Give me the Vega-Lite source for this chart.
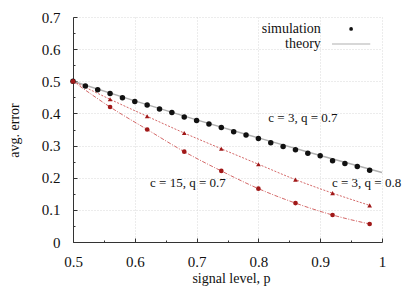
{
  "$schema": "https://vega.github.io/schema/vega-lite/v6.json",
  "width": 309,
  "height": 225,
  "autosize": {"type": "none"},
  "padding": {"left": 73, "top": 17, "right": 33, "bottom": 49},
  "background": "white",
  "config": {
    "font": "Liberation Serif",
    "view": {"stroke": null},
    "axis": {
      "labelFont": "Liberation Serif",
      "titleFont": "Liberation Serif",
      "labelFontSize": 15,
      "titleFontSize": 14,
      "titleFontWeight": "normal",
      "labelColor": "#111",
      "titleColor": "#111",
      "domainColor": "#333",
      "tickColor": "#333",
      "gridColor": "#d8d8d8",
      "gridDash": [1, 2],
      "tickSize": {"condition": {"test": "abs(datum.value*10 - round(datum.value*10)) < 0.001", "value": -4}, "value": -2},
      "gridOpacity": {"condition": {"test": "abs(datum.value*10 - round(datum.value*10)) < 0.001", "value": 1}, "value": 0},
      "labelExpr": "abs(datum.value*10 - round(datum.value*10)) < 0.001 ? datum.label : ''"
    }
  },
  "datasets": {
    "sim": [
      {"p": 0.50, "err": 0.500}, {"p": 0.52, "err": 0.485}, {"p": 0.54, "err": 0.474},
      {"p": 0.56, "err": 0.462}, {"p": 0.58, "err": 0.449}, {"p": 0.60, "err": 0.437},
      {"p": 0.62, "err": 0.426}, {"p": 0.64, "err": 0.414}, {"p": 0.66, "err": 0.403},
      {"p": 0.68, "err": 0.389}, {"p": 0.70, "err": 0.378}, {"p": 0.72, "err": 0.367},
      {"p": 0.74, "err": 0.356}, {"p": 0.76, "err": 0.343}, {"p": 0.78, "err": 0.333},
      {"p": 0.80, "err": 0.322}, {"p": 0.82, "err": 0.309}, {"p": 0.84, "err": 0.297},
      {"p": 0.86, "err": 0.287}, {"p": 0.88, "err": 0.276}, {"p": 0.90, "err": 0.268},
      {"p": 0.92, "err": 0.253}, {"p": 0.94, "err": 0.244}, {"p": 0.96, "err": 0.235},
      {"p": 0.98, "err": 0.223}
    ],
    "theory": [
      {"p": 0.5, "err": 0.5}, {"p": 0.6, "err": 0.439}, {"p": 0.7, "err": 0.38},
      {"p": 0.8, "err": 0.324}, {"p": 0.9, "err": 0.269}, {"p": 1.0, "err": 0.216}
    ],
    "c3q8": [
      {"p": 0.50, "err": 0.500}, {"p": 0.56, "err": 0.444}, {"p": 0.62, "err": 0.391},
      {"p": 0.68, "err": 0.339}, {"p": 0.74, "err": 0.290}, {"p": 0.80, "err": 0.242},
      {"p": 0.86, "err": 0.194}, {"p": 0.92, "err": 0.152}, {"p": 0.98, "err": 0.114}
    ],
    "c15": [
      {"p": 0.50, "err": 0.500}, {"p": 0.56, "err": 0.420}, {"p": 0.62, "err": 0.350},
      {"p": 0.68, "err": 0.281}, {"p": 0.74, "err": 0.221}, {"p": 0.80, "err": 0.166},
      {"p": 0.86, "err": 0.121}, {"p": 0.92, "err": 0.084}, {"p": 0.98, "err": 0.056}
    ],
    "labels": [
      {"p": 0.872, "err": 0.386, "text": "c = 3, q = 0.7"},
      {"p": 0.686, "err": 0.184, "text": "c = 15, q = 0.7"},
      {"p": 0.975, "err": 0.184, "text": "c = 3, q = 0.8"}
    ],
    "legtext": [
      {"p": 0.901, "err": 0.663, "text": "simulation"},
      {"p": 0.901, "err": 0.616, "text": "theory"}
    ],
    "legdot": [{"p": 0.950, "err": 0.663}],
    "legline": [{"p": 0.919, "p2": 0.981, "err": 0.616}]
  },
  "encoding": {
    "x": {
      "field": "p", "type": "quantitative",
      "scale": {"domain": [0.5, 1.0], "nice": false, "zero": false},
      "axis": {"values": [0.5, 0.55, 0.6, 0.65, 0.7, 0.75, 0.8, 0.85, 0.9, 0.95, 1.0], "title": "signal level, p", "titleX": 158, "titleY": 36, "titleBaseline": "middle", "format": "~g", "labelFlush": false, "labelPadding": 16}
    },
    "y": {
      "field": "err", "type": "quantitative",
      "scale": {"domain": [0, 0.7], "nice": false},
      "axis": {"values": [0, 0.05, 0.1, 0.15, 0.2, 0.25, 0.3, 0.35, 0.4, 0.45, 0.5, 0.55, 0.6, 0.65, 0.7], "title": "avg. error", "titleX": -59, "titleY": 113, "titleAngle": -90, "titleAlign": "center", "titleBaseline": "middle", "format": "~g", "labelPadding": 17}
    }
  },
  "layer": [
    {
      "data": {"name": "theory"},
      "mark": {"type": "line", "color": "#b0b0b0", "strokeWidth": 1.5, "interpolate": "monotone"},
      "encoding": {}
    },
    {
      "data": {"name": "c3q8"},
      "mark": {"type": "line", "color": "#c84040", "strokeWidth": 0.8, "strokeDash": [2, 1.5], "interpolate": "monotone"},
      "encoding": {}
    },
    {
      "data": {"name": "c15"},
      "mark": {"type": "line", "color": "#c84040", "strokeWidth": 0.8, "strokeDash": [4, 1.5, 1, 1.5], "interpolate": "monotone"},
      "encoding": {}
    },
    {
      "data": {"name": "sim"},
      "mark": {"type": "point", "shape": "circle", "filled": true, "color": "#111", "size": 30, "opacity": 1},
      "encoding": {}
    },
    {
      "data": {"name": "c3q8"},
      "mark": {"type": "point", "shape": "triangle-up", "filled": true, "color": "#a01818", "size": 22, "opacity": 1},
      "encoding": {}
    },
    {
      "data": {"name": "c15"},
      "mark": {"type": "point", "shape": "circle", "filled": true, "color": "#a01818", "size": 22, "opacity": 1},
      "encoding": {}
    },
    {
      "data": {"name": "labels"},
      "mark": {"type": "text", "font": "Liberation Serif", "fontSize": 13, "color": "#111", "align": "center", "baseline": "middle"},
      "encoding": {"text": {"field": "text"}}
    },
    {
      "data": {"name": "legtext"},
      "mark": {"type": "text", "font": "Liberation Serif", "fontSize": 14, "color": "#111", "align": "right", "baseline": "middle"},
      "encoding": {"text": {"field": "text"}}
    },
    {
      "data": {"name": "legdot"},
      "mark": {"type": "point", "shape": "circle", "filled": true, "color": "#111", "size": 14, "opacity": 1},
      "encoding": {}
    },
    {
      "data": {"name": "legline"},
      "mark": {"type": "rule", "color": "#b0b0b0", "strokeWidth": 1.2},
      "encoding": {"x2": {"field": "p2"}}
    }
  ]
}
